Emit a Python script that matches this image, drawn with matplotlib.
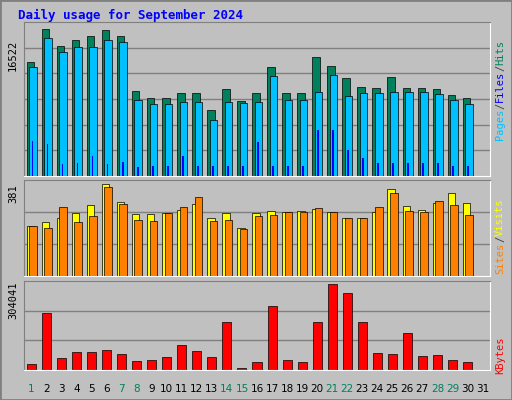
import matplotlib
matplotlib.use("Agg")
import matplotlib.pyplot as plt
import numpy as np

days = list(range(1, 32))
bar_days = list(range(1, 31))
weekends = [1, 7, 8, 14, 15, 21, 22, 28, 29]
hits = [12800,16520,14700,15300,15800,16400,15800,9600,8800,8800,9400,9400,7400,9800,8500,
        9400,12300,9300,9400,13400,12400,11000,10000,9900,11100,9900,9900,9800,9100,8800]
files = [12250,15510,13940,14500,14500,15290,15060,8540,8090,8090,8320,8320,6290,8320,8200,
         8320,11240,8540,8540,9440,11350,8990,9330,9330,9440,9440,9440,9220,8540,8090]
pages = [3900,3600,1300,1500,2200,1300,1600,1000,1100,1100,2200,1100,1100,1100,1100,
         3800,1100,1100,1100,5200,5200,2900,2000,1500,1500,1500,1500,1500,1100,1100]
visits = [207,223,240,261,294,381,306,257,257,261,274,298,240,261,199,
          261,269,265,269,278,265,240,240,265,360,290,274,303,344,303]
sites = [207,199,286,224,248,368,298,232,228,261,286,327,228,232,195,
         248,253,265,265,282,265,240,240,286,344,269,265,311,294,253]
kbytes = [21210,201500,42420,63630,63630,70700,56560,31820,35350,45960,88380,67170,45960,169700,7070,
          28280,226200,35350,28280,169700,304041,272200,169700,60100,56560,130800,49490,53030,35350,28280]

W, H = 512, 400
fig = plt.figure(figsize=(W/100, H/100), dpi=100)
fig.patch.set_facecolor('#C0C0C0')
fig.add_artist(plt.Rectangle((0, 0), 1, 1, transform=fig.transFigure, fill=False, ec='#808080', lw=2))
fig.text(18/W, 1-15/H, 'Daily usage for September 2024', color='#0000FF', fontsize=9,
         fontweight='bold', family='DejaVu Sans Mono', va='center')

def panel(top, bottom):
    ax = fig.add_axes([24/W, 1-bottom/H, (490-24)/W, (bottom-top)/H])
    ax.set_facecolor('#C0C0C0')
    ax.set_xlim(0.5, 31.5)
    ax.set_xticks([]); ax.set_yticks([])
    for s in ax.spines.values():
        s.set_color('#808080')
    ax.spines['bottom'].set_color('white'); ax.spines['right'].set_color('white')
    return ax

x = np.array(bar_days)
ax1 = panel(22, 176)
ax1.set_ylim(0, 16522*1.05)
for f in (1/6, 2/6, 3/6, 4/6, 5/6):
    ax1.axhline(16522*1.05*f, color='#808080', lw=1, zorder=0)
ax1.bar(x-0.32, hits, width=0.5, align='edge', color='#00805C', ec='black', lw=0.5, zorder=2)
ax1.bar(x-0.15, files, width=0.5, align='edge', color='#00C0FF', ec='black', lw=0.5, zorder=3)
ax1.bar(x+0.0, pages, width=0.12, align='edge', color='#0000FF', lw=0, zorder=4)

ax2 = panel(180, 276)
ax2.set_ylim(0, 381*1.04)
for f in (1/3, 2/3):
    ax2.axhline(381*1.04*f, color='#808080', lw=1, zorder=0)
ax2.bar(x-0.32, visits, width=0.5, align='edge', color='#FFFF00', ec='black', lw=0.5, zorder=2)
ax2.bar(x-0.15, sites, width=0.5, align='edge', color='#FF8000', ec='black', lw=0.5, zorder=3)

ax3 = panel(281, 370)
ax3.set_ylim(0, 304041*1.04)
for f in (1/3, 2/3):
    ax3.axhline(304041*1.04*f, color='#808080', lw=1, zorder=0)
ax3.bar(x-0.3, kbytes, width=0.6, align='edge', color='#FF0000', ec='black', lw=0.5, zorder=2)

for d in days:
    xp = (24 + (d-0.5)/31*466)/W
    fig.text(xp, 1-389/H, str(d), ha='center', va='center', fontsize=7.5,
             color='#00805C' if d in weekends else 'black')

for val, yc in (('16522', 55), ('381', 194), ('304041', 300)):
    fig.text(13/W, 1-yc/H, val, rotation=90, ha='center', va='center', fontsize=7.5,
             family='DejaVu Sans Mono')

def rlabel(parts, ymid):
    total = sum(len(t) for t, _ in parts)
    ch = 6.3
    y = ymid + total*ch/2
    for t, c in parts:
        fig.text(500/W, 1-(y - len(t)*ch/2)/H, t, rotation=90, ha='center', va='center',
                 fontsize=7.5, color=c, family='DejaVu Sans Mono')
        y -= len(t)*ch

rlabel([('Pages', '#00C0FF'), ('/', '#404040'), ('Files', '#0000FF'), ('/', '#404040'), ('Hits', '#00805C')], 90)
rlabel([('Sites', '#FF8000'), ('/', '#404040'), ('Visits', '#FFFF00')], 236)
rlabel([('KBytes', '#FF0000')], 355)

fig.savefig('out.png', dpi=100, facecolor=fig.get_facecolor())
